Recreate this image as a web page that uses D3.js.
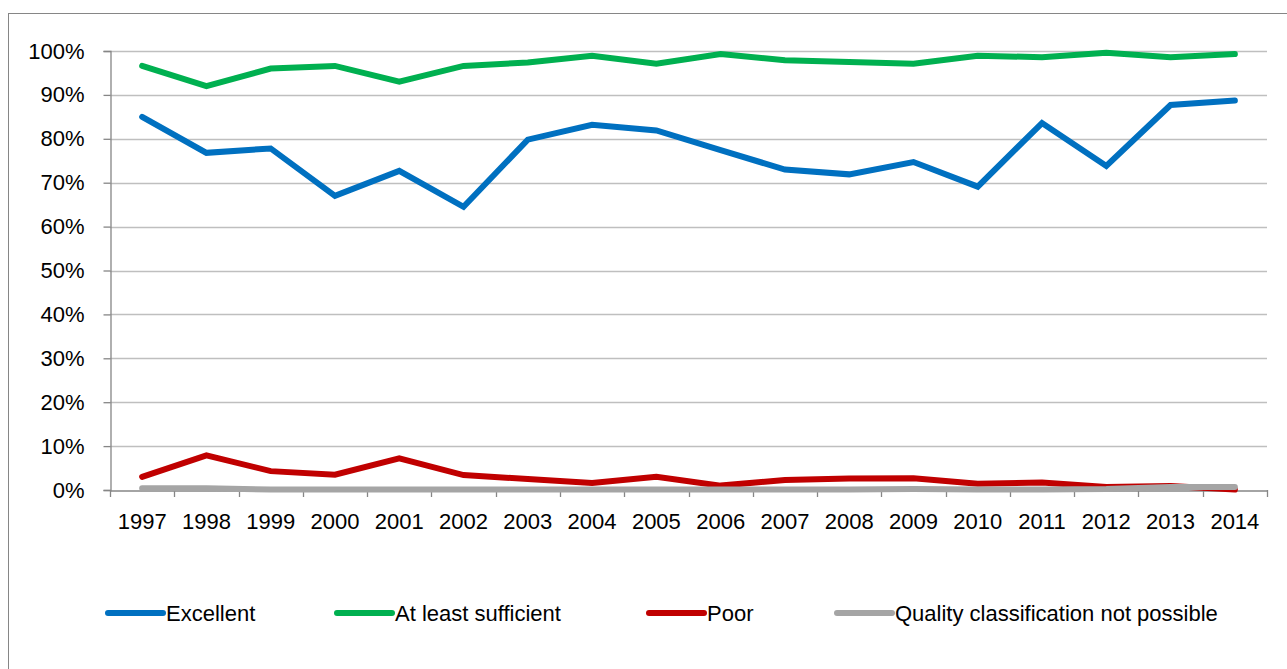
<!DOCTYPE html>
<html><head><meta charset="utf-8">
<script src="https://cdn.jsdelivr.net/npm/d3@7"></script>
<style>html,body{margin:0;padding:0;background:#fff;}svg{display:block;}</style>
</head><body>
<script>
const years = ["1997","1998","1999","2000","2001","2002","2003","2004","2005","2006","2007","2008","2009","2010","2011","2012","2013","2014"];
const excellent = [85.0,76.8,77.8,67.0,72.7,64.5,79.8,83.2,81.9,77.4,73.0,71.9,74.7,69.1,83.6,73.8,87.7,88.7];
const atLeastSufficient = [96.6,92.0,96.0,96.6,93.0,96.6,97.4,98.9,97.1,99.3,97.9,97.5,97.1,98.9,98.6,99.6,98.6,99.3];
const poor = [3.0,7.9,4.3,3.5,7.2,3.4,2.5,1.6,3.0,1.0,2.3,2.6,2.7,1.4,1.7,0.7,0.9,0.1];
const notPossible = [0.4,0.4,0.1,0.1,0.1,0.1,0.1,0.1,0.1,0.1,0.1,0.1,0.2,0.1,0.1,0.2,0.7,0.7];
const yTicks = [0,10,20,30,40,50,60,70,80,90,100];
const seriesNames = ["Excellent","At least sufficient","Poor","Quality classification not possible"];
const seriesColors = ["#0070C0","#00B050","#C00000","#A5A5A5"];
const seriesData = [excellent, atLeastSufficient, poor, notPossible];

(function () {
const W = 1287, H = 669;
const svg = d3.select("body").append("svg").attr("width", W).attr("height", H);
const font = "'Liberation Sans', Arial, sans-serif";

// chart border (extends past the window)
svg.append("rect").attr("x", 8.5).attr("y", 13.5).attr("width", W + 10).attr("height", H + 10)
  .attr("fill", "none").attr("stroke", "#868686").attr("stroke-width", 1);

const pl = 110, pr = 1267, pt = 51, pb = 490;
const x = d3.scaleBand().domain(years).range([pl, pr]);
const y = d3.scaleLinear().domain([0, 100]).range([pb, pt]);

// gridlines
svg.append("g").selectAll("line").data(yTicks.filter(d => d > 0)).join("line")
  .attr("x1", pl).attr("x2", pr)
  .attr("y1", d => Math.round(y(d)) + 0.5).attr("y2", d => Math.round(y(d)) + 0.5)
  .attr("stroke", "#BFBFBF").attr("stroke-width", 1.3);

// y axis
const yAxis = svg.append("g").attr("transform", `translate(${pl + 0.5},0)`)
  .call(d3.axisLeft(y).tickValues(yTicks).tickSize(7).tickPadding(19).tickFormat(d => d + "%"));
yAxis.select(".domain").attr("stroke", "#868686").attr("stroke-width", 1.3);
yAxis.selectAll(".tick line").attr("stroke", "#868686").attr("stroke-width", 1.3);
yAxis.selectAll("text").attr("font-family", font).attr("font-size", 22).attr("fill", "#000");

// x axis
const xAxis = svg.append("g").attr("transform", `translate(0,${pb + 0.5})`)
  .call(d3.axisBottom(x).tickSize(0).tickPadding(23));
xAxis.select(".domain").attr("stroke", "#868686").attr("stroke-width", 1.3);
xAxis.selectAll("text").attr("font-family", font).attr("font-size", 22).attr("fill", "#000");
// category boundary ticks
const bounds = years.map(d => x(d)).concat([pr]);
svg.append("g").selectAll("line").data(bounds).join("line")
  .attr("x1", d => Math.round(d) + 0.5).attr("x2", d => Math.round(d) + 0.5)
  .attr("y1", pb).attr("y2", pb + 7)
  .attr("stroke", "#868686").attr("stroke-width", 1.3);

// lines
const line = d3.line().x((d, i) => x(years[i]) + x.bandwidth() / 2).y(d => y(d));
seriesData.forEach((s, k) => {
  svg.append("path").datum(s).attr("d", line)
    .attr("fill", "none").attr("stroke", seriesColors[k]).attr("stroke-width", 6)
    .attr("stroke-linecap", "round").attr("stroke-linejoin", "miter");
});

// legend
const legendX = [108, 337, 649, 837];
const legendY = 613;
const lg = svg.append("g");
seriesNames.forEach((n, k) => {
  lg.append("line").attr("x1", legendX[k]).attr("x2", legendX[k] + 55)
    .attr("y1", legendY).attr("y2", legendY)
    .attr("stroke", seriesColors[k]).attr("stroke-width", 6).attr("stroke-linecap", "round");
  lg.append("text").attr("x", legendX[k] + 58).attr("y", legendY).attr("dy", "0.35em")
    .attr("font-family", font).attr("font-size", 22).attr("fill", "#000").text(n);
});
})();
</script>
</body></html>
